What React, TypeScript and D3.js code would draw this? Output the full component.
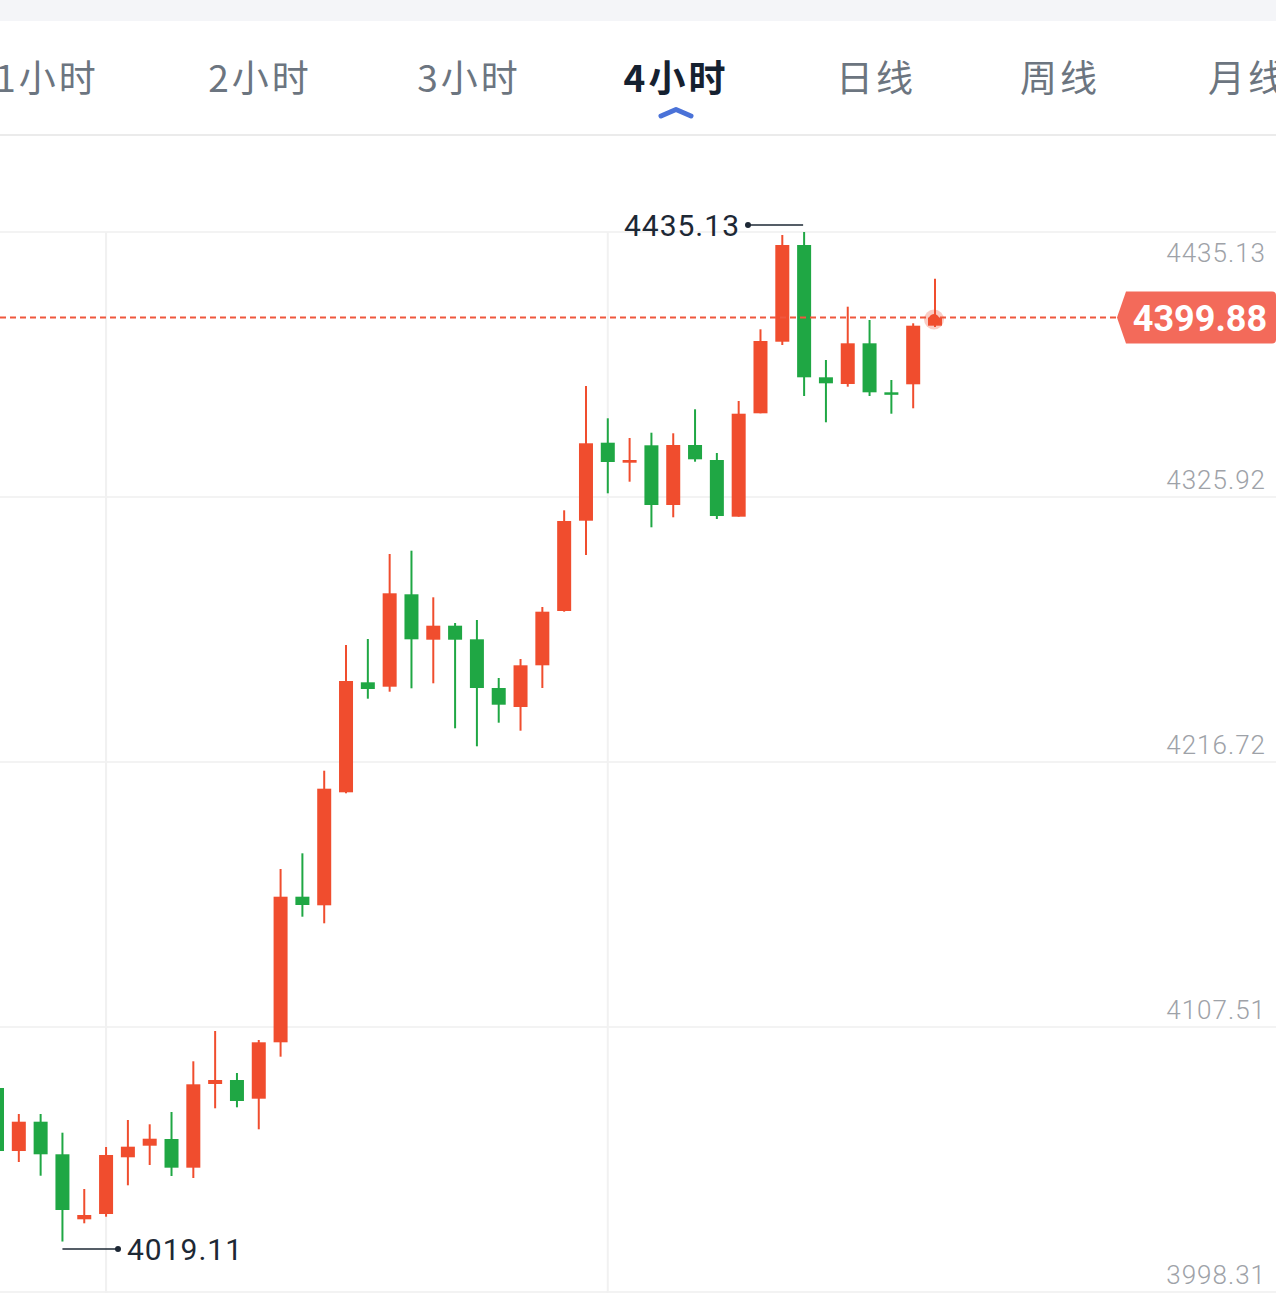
import React, { useEffect } from "react";
import * as d3 from "d3";

// ---- data ----
const tabs = ["1小时", "2小时", "3小时", "4小时", "日线", "周线", "月线"];
const activeTab = "4小时";

const opens = [
  4082.38, 4056.41, 4068.49, 4055.06, 4028.27, 4030.45, 4053.82, 4058.6, 4061.36, 4049.54,
  4084.03, 4085.67, 4077.97, 4101.21, 4161.21, 4157.67, 4204.23, 4249.56, 4247.75, 4285.83,
  4267.12, 4272.89, 4267.28, 4247.21, 4239.39, 4256.57, 4278.95, 4316.16, 4348.3, 4340.06,
  4347.23, 4322.63, 4347.35, 4341.17, 4317.81, 4360.42, 4389.92, 4429.77, 4375.25, 4372.49,
  4389.26, 4369.07, 4372.37, 4396.52,
];
const closes = [
  4056.41, 4068.49, 4055.06, 4032.1, 4030.04, 4054.77, 4058.19, 4061.48, 4049.54, 4083.9,
  4085.67, 4077.02, 4101.21, 4161.21, 4157.79, 4205.72, 4250.1, 4246.8, 4286.24, 4267.28,
  4272.89, 4267.12, 4247.21, 4240.33, 4256.57, 4278.66, 4316.04, 4348.06, 4340.35, 4341.17,
  4322.63, 4347.35, 4341.46, 4318.09, 4360.25, 4390.21, 4429.77, 4375.25, 4372.78, 4389.26,
  4369.07, 4368.25, 4396.52, 4399.88,
];
const highs = [
  4084.85, 4071.66, 4071.66, 4063.96, 4040.75, 4058.06, 4069.19, 4067.42, 4072.49, 4093.38,
  4105.86, 4088.56, 4102.16, 4172.63, 4179.09, 4213.13, 4264.94, 4267.41, 4302.44, 4303.8,
  4284.59, 4274.0, 4275.24, 4251.34, 4259.17, 4280.59, 4320.44, 4371.67, 4358.36, 4350.24,
  4352.42, 4352.18, 4362.07, 4344.06, 4365.49, 4395.03, 4433.89, 4435.13, 4382.38, 4404.35,
  4398.87, 4374.14, 4397.51, 4415.89,
];
const lows = [
  4053.53, 4051.88, 4046.23, 4019.11, 4026.62, 4029.34, 4042.28, 4050.65, 4046.11, 4045.29,
  4074.01, 4074.42, 4065.36, 4095.28, 4152.97, 4150.25, 4203.82, 4242.81, 4245.69, 4247.09,
  4249.15, 4230.61, 4223.19, 4232.92, 4229.62, 4247.21, 4278.66, 4302.02, 4327.45, 4332.23,
  4313.44, 4317.56, 4340.47, 4316.86, 4317.81, 4360.42, 4388.56, 4367.55, 4356.71, 4371.38,
  4367.55, 4360.25, 4362.48, 4396.0,
];
const priceTicks = [4435.13, 4325.92, 4216.72, 4107.51, 3998.31];
const gridCandleIdx = [5, 28];
const highLabel = "4435.13";
const lowLabel = "4019.11";
const lastPrice = 4399.88;

const W = 1276;
const H = 1293;
const UP = "#f04d2e";
const DOWN = "#1fa744";

export default function App() {
  useEffect(() => {
    document.body.style.margin = "0";
    document.body.style.overflow = "hidden";
  }, []);

  const y = d3.scaleLinear().domain([3998.31, 4435.13]).range([1292, 232]);
  const x = d3.scaleLinear().domain([0, opens.length - 1]).range([-3, 935]);
  const bodyW = 14;

  const highIdx = d3.maxIndex(highs);
  const lowIdx = d3.minIndex(lows);
  const lastIdx = opens.length - 1;

  const tabCenters = [47, 260, 469, 676, 876, 1060, 1248];

  const yLast = y(lastPrice);
  const tagL = 1117;

  return (
    <svg
      width={W}
      height={H}
      style={{ position: "absolute", left: 0, top: 0, background: "#fff" }}
    >
      {/* header */}
      <rect x={0} y={0} width={W} height={21} fill="#f4f5f8" />
      <rect x={0} y={21} width={W} height={113} fill="#ffffff" />
      <rect x={0} y={134} width={W} height={2} fill="#ebebeb" />
      {tabs.map((t, i) => {
        const active = t === activeTab;
        return (
          <text
            key={t}
            x={tabCenters[i]}
            y={92}
            textAnchor="middle"
            fontFamily="'Noto Sans CJK SC', 'Noto Sans', sans-serif"
            fontSize={37}
            letterSpacing={3}
            fontWeight={active ? 700 : 400}
            fill={active ? "#152130" : "#6c7580"}
          >
            {t}
          </text>
        );
      })}
      <path
        d={`M${tabCenters[3] - 15},116 L${tabCenters[3]},109.5 L${tabCenters[3] + 15},116`}
        fill="none"
        stroke="#4a72d8"
        strokeWidth={5}
        strokeLinecap="round"
        strokeLinejoin="round"
      />

      {/* grid */}
      {priceTicks.map((p) => (
        <line key={p} x1={0} x2={W} y1={y(p)} y2={y(p)} stroke="#efefef" strokeWidth={1.5} />
      ))}
      {gridCandleIdx.map((i) => (
        <line key={i} x1={x(i)} x2={x(i)} y1={y(priceTicks[0])} y2={H} stroke="#f1f1f1" strokeWidth={2} />
      ))}

      {/* price axis labels */}
      {priceTicks.map((p, i) => (
        <text
          key={"l" + p}
          x={1266}
          y={i === 0 ? y(p) + 30 : y(p) - 8}
          textAnchor="end"
          fontFamily="Roboto, 'Noto Sans', sans-serif"
          fontWeight={300}
          fontSize={26}
          letterSpacing={1}
          fill="#9ea2a8"
        >
          {p.toFixed(2)}
        </text>
      ))}

      {/* candles */}
      {opens.map((o, i) => {
        const c = closes[i];
        const col = c >= o ? UP : DOWN;
        const top = y(Math.max(o, c));
        const bot = y(Math.min(o, c));
        const cx = x(i);
        return (
          <g key={i}>
            <line x1={cx} x2={cx} y1={y(highs[i])} y2={y(lows[i])} stroke={col} strokeWidth={2} />
            <rect x={cx - bodyW / 2} y={top} width={bodyW} height={Math.max(2.5, bot - top)} fill={col} />
          </g>
        );
      })}

      {/* last price line */}
      <line x1={0} x2={tagL} y1={yLast} y2={yLast} stroke="#f0573d" strokeWidth={2} strokeDasharray="6 4" />
      <circle cx={x(lastIdx) - 1} cy={yLast + 2} r={10} fill="rgba(240,87,61,0.3)" />
      <circle cx={x(lastIdx) - 1} cy={yLast + 2} r={5.5} fill="#f04d2e" />
      <path
        d={`M${tagL},${yLast} L${tagL + 9},${yLast - 26} L${W - 4},${yLast - 26} Q${W},${yLast - 26} ${W},${yLast - 22} L${W},${yLast + 22} Q${W},${yLast + 26} ${W - 4},${yLast + 26} L${tagL + 9},${yLast + 26} Z`}
        fill="#f36a5a"
      />
      <text
        x={1200}
        y={yLast + 13}
        textAnchor="middle"
        fontFamily="Roboto, 'Noto Sans', sans-serif"
        fontWeight={700}
        fontSize={36}
        fill="#ffffff"
      >
        {lastPrice.toFixed(2)}
      </text>

      {/* high annotation */}
      <line x1={748} x2={x(highIdx) - 1} y1={225} y2={225} stroke="#1d2835" strokeWidth={1.5} />
      <circle cx={748} cy={225} r={3} fill="#1d2835" />
      <text
        x={740}
        y={236}
        textAnchor="end"
        fontFamily="Roboto, 'Noto Sans', sans-serif"
        fontSize={30}
        letterSpacing={1}
        fill="#1d2835"
      >
        {highLabel}
      </text>

      {/* low annotation */}
      <line x1={x(lowIdx)} x2={118} y1={1249} y2={1249} stroke="#1d2835" strokeWidth={1.5} />
      <circle cx={118} cy={1249} r={3} fill="#1d2835" />
      <text
        x={127}
        y={1260}
        textAnchor="start"
        fontFamily="Roboto, 'Noto Sans', sans-serif"
        fontSize={30}
        letterSpacing={1}
        fill="#1d2835"
      >
        {lowLabel}
      </text>
    </svg>
  );
}
